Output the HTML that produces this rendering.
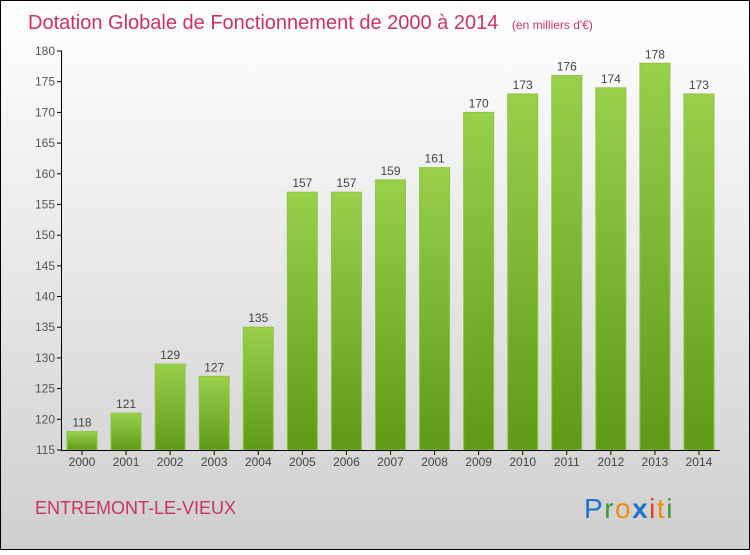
<!DOCTYPE html>
<html><head><meta charset="utf-8"><style>
body{margin:0}
svg text{font-family:"Liberation Sans",sans-serif}
</style></head><body>
<svg width="750" height="550" xmlns="http://www.w3.org/2000/svg">
<defs>
<linearGradient id="bg" x1="0" y1="0" x2="0" y2="1"><stop offset="0" stop-color="#ffffff"/><stop offset="1" stop-color="#cfcfcf"/></linearGradient>
<linearGradient id="bar" x1="0" y1="0" x2="0" y2="1"><stop offset="0" stop-color="#98d04c"/><stop offset="1" stop-color="#5e9a16"/></linearGradient>
</defs>
<rect x="0.5" y="0.5" width="749" height="549" fill="url(#bg)" stroke="#000"/>
<text x="28" y="29" font-size="20" fill="#c8345e">Dotation Globale de Fonctionnement de 2000 à 2014 <tspan font-size="12" dx="8">(en milliers d'€)</tspan></text>
<g id="plot"></g>
<text x="35" y="514" font-size="18" fill="#c8345e">ENTREMONT-LE-VIEUX</text>
<g font-size="28">
<text x="584" y="518" letter-spacing="1.5"><tspan fill="#1e73c8">P</tspan><tspan fill="#3a9a3a">r</tspan><tspan fill="#f08a10">o</tspan><tspan fill="#1e73c8" font-weight="bold">x</tspan><tspan fill="#e8401a">i</tspan><tspan fill="#f08a10">t</tspan><tspan fill="#3a9a3a">i</tspan></text>
</g>
</svg>
<script>
const years=["2000","2001","2002","2003","2004","2005","2006","2007","2008","2009","2010","2011","2012","2013","2014"];
const values=[118,121,129,127,135,157,157,159,161,170,173,176,174,178,173];
const yTicks=[115,120,125,130,135,140,145,150,155,160,165,170,175,180];
const NS="http://www.w3.org/2000/svg";
const g=document.getElementById('plot');
const y0=450,y1=51,vmin=115,vmax=180;
const y=v=>y0-(v-vmin)/(vmax-vmin)*(y0-y1);
const x=i=>82+i*44.07;
function mk(t,a,p){const e=document.createElementNS(NS,t);for(const k in a)e.setAttribute(k,a[k]);(p||g).appendChild(e);return e;}
yTicks.forEach(v=>{
 const l=mk('line',{x1:57,x2:62,y1:y(v),y2:y(v),stroke:'#000'});
 
 
 const t=mk('text',{x:55,y:y(v)+4,'text-anchor':'end','font-size':12,fill:'#555'});
 t.textContent=v;
 
 
});
values.forEach((v,i)=>{
 const r=mk('rect',{x:x(i)-15,y:y(v),width:30,height:y0-y(v),fill:'url(#bar)',stroke:'#8cc63f','stroke-width':1});
 
 
 const t=mk('text',{x:x(i),y:y(v)-5,'text-anchor':'middle','font-size':12,fill:'#444'});
 t.textContent=v;
 
 
 const tk=mk('line',{x1:x(i),x2:x(i),y1:y0,y2:y0+5,stroke:'#000'});
 
 
 const xl=mk('text',{x:x(i),y:466,'text-anchor':'middle','font-size':12,fill:'#444'});
 xl.textContent=years[i];
 
 
});
const ya=mk('line',{x1:61.5,x2:61.5,y1:y1,y2:y0,stroke:'#000'});


const xa=mk('line',{x1:61,x2:720,y1:y0+0.5,y2:y0+0.5,stroke:'#000'});


</script>
</body></html>
